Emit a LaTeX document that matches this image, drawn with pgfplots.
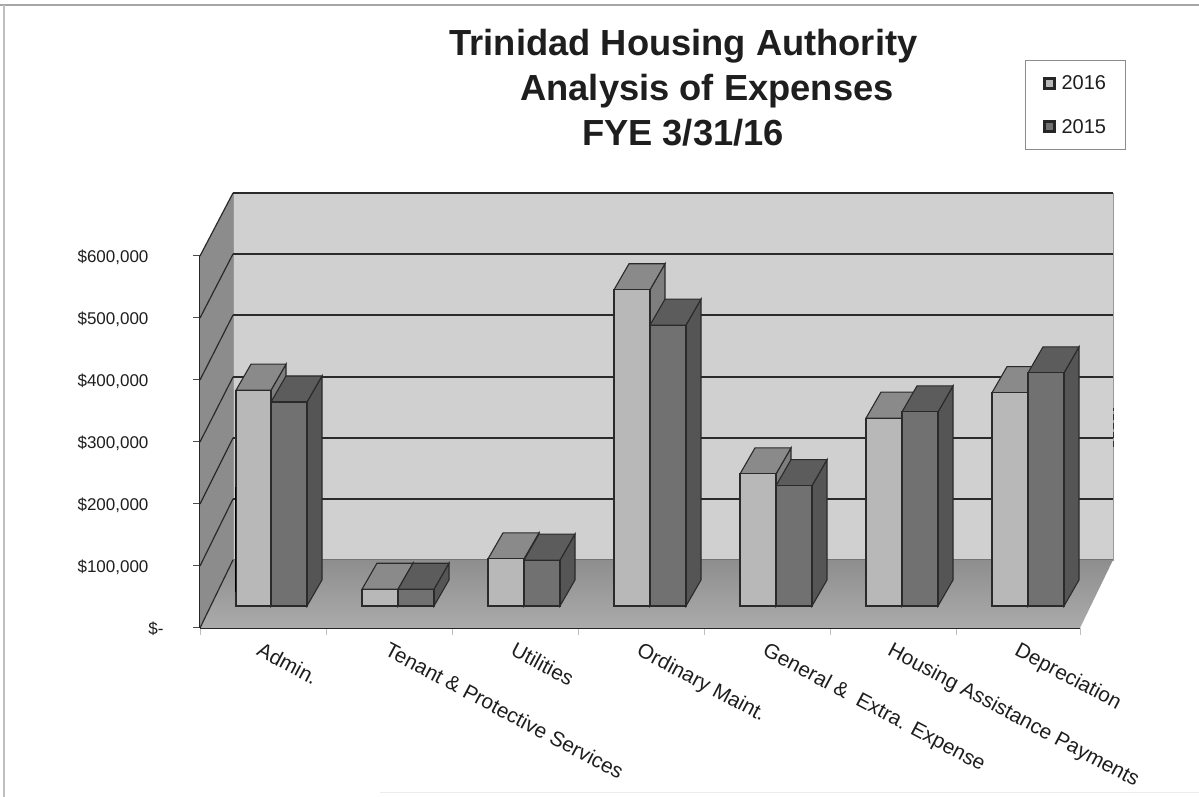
\documentclass[border=0pt]{standalone}
\usepackage{fontspec}
\setmainfont{Liberation Sans}
\usepackage{pgfplots}
\pgfplotsset{compat=1.18}
\definecolor{wallc}{HTML}{D0D0D0}
\definecolor{sidec}{HTML}{8C8C8C}
\definecolor{floorA}{HTML}{8E8E8E}
\definecolor{floorB}{HTML}{ABABAB}
\definecolor{aF}{HTML}{B8B8B8}
\definecolor{aT}{HTML}{8A8A8A}
\definecolor{aS}{HTML}{7E7E7E}
\definecolor{bF}{HTML}{717171}
\definecolor{bT}{HTML}{5C5C5C}
\definecolor{bS}{HTML}{555555}
\definecolor{lineC}{HTML}{2A2A2A}
\definecolor{textC}{HTML}{1E1E1E}
% one 3-D bar: x left, x right, value in $1000s, front/top/side colours
\newcommand\threedbar[6]{%
  \pgfmathsetmacro\ytop{35.5+#3}%
  \pgfmathsetmacro\yback{\ytop+42}%
  \pgfmathsetmacro\xlb{#1+15}%
  \pgfmathsetmacro\xrb{#2+15}%
  \addplot[fill=#6,draw=lineC,line width=1.1pt,forget plot] coordinates {(#2,35.5)(\xrb,77.5)(\xrb,\yback)(#2,\ytop)} --cycle;
  \addplot[fill=#5,draw=lineC,line width=1.1pt,forget plot] coordinates {(#1,\ytop)(\xlb,\yback)(\xrb,\yback)(#2,\ytop)} --cycle;
  \addplot[fill=#4,draw=lineC,line width=1.1pt,forget plot] coordinates {(#1,35.5)(#1,\ytop)(#2,\ytop)(#2,35.5)} --cycle;
}
\begin{document}
\begin{tikzpicture}[x=1pt,y=1pt]
\path[use as bounding box] (0,0) rectangle (1199,797);
\draw[gray!70,line width=1.5pt] (0,792) -- (1199,792);
\draw[gray!50,line width=2pt] (4,0) -- (4,792);
\draw[gray!15,line width=1pt] (380,4) -- (1199,4);
\begin{axis}[
  at={(200pt,169pt)},anchor=south west,
  width=880pt,height=372pt,scale only axis,
  xmin=200,xmax=1080,ymin=0,ymax=600,
  clip=false,
  axis lines*=left,
  axis line style={black!85,line width=2pt},
  tick align=outside,
  ytick={0,100,200,300,400,500,600},
  yticklabels={{\$-\hspace*{-15pt}},{\$100,000},{\$200,000},{\$300,000},{\$400,000},{\$500,000},{\$600,000}},
  yticklabel style={font=\fontsize{17}{20}\selectfont,text=textC,xshift=-41pt,yshift=-1pt},
  y tick style={black!70,line width=1pt},
  major tick length=7pt,
  xtick={200,326,452,578,704,830,956,1080},
  xticklabels={},
  x tick style={black!25,line width=1pt},
  extra x ticks={266,394,520,646,772,897,1024},
  extra x tick labels={Admin.,Tenant \& Protective Services,Utilities,Ordinary Maint.,General \&\ \ Extra. Expense,Housing Assistance Payments,Depreciation},
  extra x tick style={major tick length=0pt,
    tick label style={rotate=-28,anchor=north west,font=\fontsize{20.8}{24}\selectfont,text=textC,yshift=-10pt}},
  legend style={at={(axis cs:1025,916)},anchor=north west,draw=black!45,line width=1pt,
    font=\fontsize{20}{24}\selectfont,text=textC,inner xsep=17.5pt,inner ysep=13pt,
    row sep=24pt,fill=white,legend cell align=left,/tikz/every odd column/.append style={column sep=3.5pt}},
  legend image code/.code={\draw[#1,line width=3pt] (0pt,-5pt) rectangle (10pt,5pt);},
]
\addlegendimage{fill=aF,draw=black!85}
\addlegendentry{2016}
\addlegendimage{fill=bF,draw=black!85}
\addlegendentry{2015}
% walls and floor
\addplot[fill=wallc,draw=black!40,line width=0.8pt,forget plot] coordinates {(233,109.7)(233,701.6)(1113,701.6)(1113,109.7)} --cycle;
\addplot[fill=sidec,draw=none,forget plot] coordinates {(200,0)(233,109.7)(233,701.6)(200,600)} --cycle;
\addplot[shade,top color=floorA,bottom color=floorB,draw=none,forget plot] coordinates {(200,0)(233,109.7)(1113,109.7)(1080,0)} --cycle;
% grid on back wall
\addplot[lineC,line width=1.4pt,forget plot] coordinates {(233,701.6)(1113,701.6)};
\addplot[lineC,line width=1.4pt,forget plot] coordinates {(233,603.2)(1113,603.2)};
\addplot[lineC,line width=1.4pt,forget plot] coordinates {(233,504.8)(1113,504.8)};
\addplot[lineC,line width=1.4pt,forget plot] coordinates {(233,404.8)(1113,404.8)};
\addplot[lineC,line width=1.4pt,forget plot] coordinates {(233,306.5)(1113,306.5)};
\addplot[lineC,line width=1.4pt,forget plot] coordinates {(233,208.1)(1113,208.1)};
\addplot[black!55,line width=1pt,forget plot] coordinates {(233,109.7)(1113,109.7)};
% grid on side wall
\addplot[lineC,line width=1.2pt,forget plot] coordinates {(200,600)(233,701.6)};
\addplot[lineC,line width=1.2pt,forget plot] coordinates {(200,500)(233,603.2)};
\addplot[lineC,line width=1.2pt,forget plot] coordinates {(200,400)(233,504.8)};
\addplot[lineC,line width=1.2pt,forget plot] coordinates {(200,300)(233,404.8)};
\addplot[lineC,line width=1.2pt,forget plot] coordinates {(200,200)(233,306.5)};
\addplot[lineC,line width=1.2pt,forget plot] coordinates {(200,100)(233,208.1)};
\addplot[lineC,line width=1.2pt,forget plot] coordinates {(200,0)(233,109.7)};
% bars
\threedbar{236}{271}{348}{aF}{aT}{aS}
\threedbar{271}{307}{329}{bF}{bT}{bS}
\threedbar{362}{398}{27}{aF}{aT}{aS}
\threedbar{398}{434}{27}{bF}{bT}{bS}
\threedbar{488}{524}{76}{aF}{aT}{aS}
\threedbar{524}{560}{74}{bF}{bT}{bS}
\threedbar{614}{650}{510}{aF}{aT}{aS}
\threedbar{650}{686}{453}{bF}{bT}{bS}
\threedbar{740}{776}{213}{aF}{aT}{aS}
\threedbar{776}{812}{194}{bF}{bT}{bS}
\threedbar{866}{902}{303}{aF}{aT}{aS}
\threedbar{902}{938}{313}{bF}{bT}{bS}
\threedbar{992}{1028}{344}{aF}{aT}{aS}
\threedbar{1028}{1064}{376}{bF}{bT}{bS}
% scan marks
\addplot[black,line width=1.2pt,forget plot] coordinates {(235.5,58)(235.5,227)};
\addplot[black!80,line width=0.7pt,dash pattern=on 6pt off 3pt,forget plot] coordinates {(1113,292)(1113,355)};
\end{axis}
\node[anchor=base,font=\bfseries\fontsize{36.3}{40}\selectfont,text=textC] at (683.5,741) {Trinidad Housing Authority};
\node[anchor=base,font=\bfseries\fontsize{36.3}{40}\selectfont,text=textC] at (707,696) {Analysis of Expenses};
\node[anchor=base,font=\bfseries\fontsize{36.3}{40}\selectfont,text=textC] at (683,651) {FYE 3/31/16};
\end{tikzpicture}
\end{document}
